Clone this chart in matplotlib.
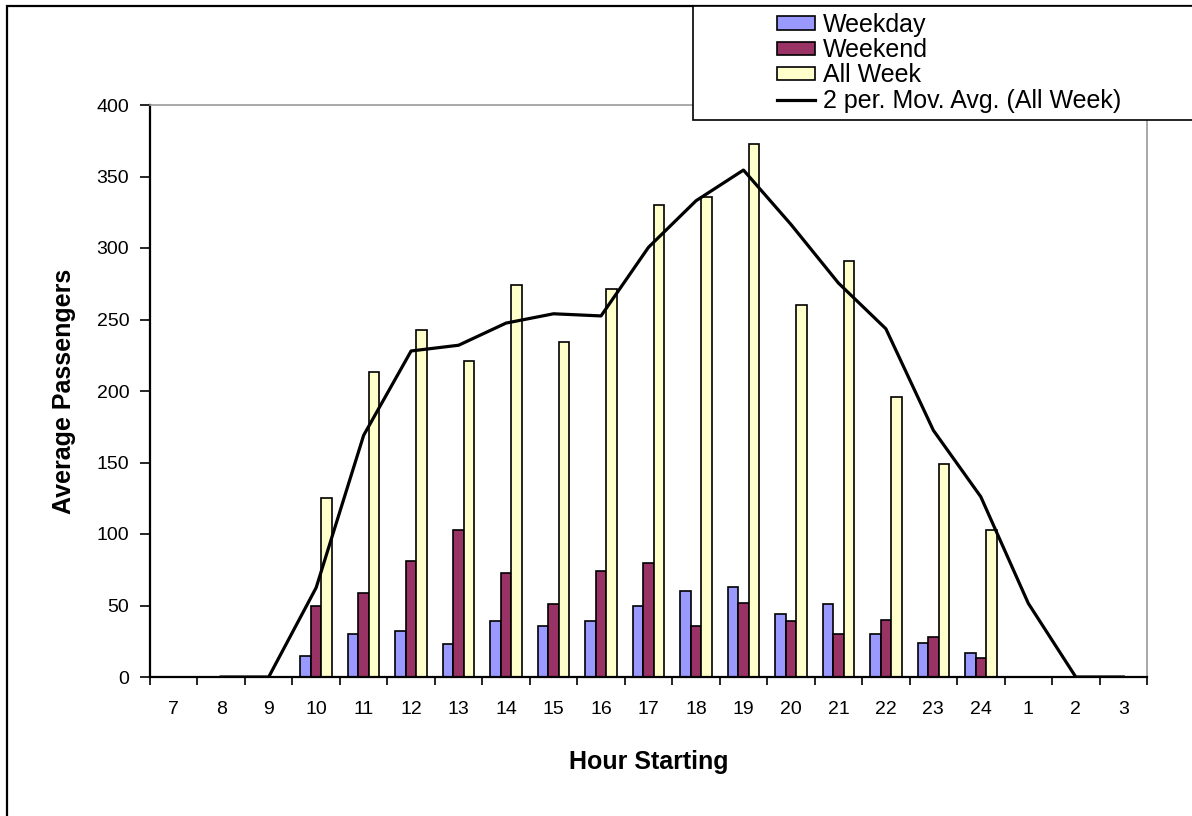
import matplotlib
matplotlib.use("Agg")
import matplotlib.pyplot as plt
import matplotlib.patches as mpatches
import numpy as np
import pandas as pd

plt.rcParams['font.family'] = ['Liberation Sans', 'DejaVu Sans']

# Average passengers by starting hour
hours = ["7", "8", "9", "10", "11", "12", "13", "14", "15", "16", "17",
         "18", "19", "20", "21", "22", "23", "24", "1", "2", "3"]
weekday = [0, 0, 0, 15, 30, 32, 23, 39, 36, 39, 50,
           60, 63, 44, 51, 30, 24, 17, 0, 0, 0]
weekend = [0, 0, 0, 50, 59, 81, 103, 73, 51, 74, 80,
           36, 52, 39, 30, 40, 28, 13, 0, 0, 0]
all_week = [0, 0, 0, 125, 213, 243, 221, 274, 234, 271, 330,
            336, 373, 260, 291, 196, 149, 103, 0, 0, 0]

df = pd.DataFrame({"Weekday": weekday, "Weekend": weekend, "All Week": all_week},
                  index=hours)
# 2-period moving average trendline on the all-week series
mov_avg = df["All Week"].rolling(2).mean()

W, H = 1192, 816
fig = plt.figure(figsize=(W / 100, H / 100), dpi=100)
ax = fig.add_axes([150 / W, (H - 677) / H, (1147 - 150) / W, (677 - 105) / H])

x = np.arange(len(hours))
bw = 0.22
colors = {"Weekday": "#9999FF", "Weekend": "#993366", "All Week": "#FFFFCC"}
for k, col in enumerate(["Weekday", "Weekend", "All Week"]):
    ax.bar(x + (k - 1) * bw, df[col], width=bw, color=colors[col],
           edgecolor="black", linewidth=1.2, label=col, zorder=2)

ax.plot(x, mov_avg, color="black", linewidth=2.3, zorder=3,
        label="2 per. Mov. Avg. (All Week)")

ax.set_xlim(-0.5, len(hours) - 0.5)
ax.set_ylim(0, 400)
ax.set_yticks(np.arange(0, 401, 50))
ax.tick_params(axis="y", direction="out", length=7, width=1.2, labelsize=14, pad=8)

# tick marks between categories, labels centred on them
ax.set_xticks(np.arange(-0.5, len(hours), 1))
ax.set_xticklabels([])
ax.set_xticks(x, minor=True)
ax.set_xticklabels(hours, minor=True)
ax.tick_params(axis="x", which="major", direction="out", length=6, width=1.2)
ax.tick_params(axis="x", which="minor", length=0, labelsize=14, pad=17)

for side in ["top", "right"]:
    ax.spines[side].set_color("#999999")
    ax.spines[side].set_linewidth(1.2)
for side in ["left", "bottom"]:
    ax.spines[side].set_color("black")
    ax.spines[side].set_linewidth(1.6)

ax.set_xlabel("Hour Starting", fontsize=18, fontweight="bold", labelpad=23)
ax.set_ylabel("Average Passengers", fontsize=18, fontweight="bold", labelpad=15)

# outer chart border
fig.patches.append(mpatches.Rectangle((7 / W, -0.1), 1.2, (H - 6) / H + 0.1,
                                      transform=fig.transFigure, fill=False,
                                      edgecolor="black", linewidth=1.6, zorder=1))
# legend box
fig.patches.append(mpatches.Rectangle((693 / W, (H - 120) / H), 0.5, 114 / H,
                                      transform=fig.transFigure, facecolor="white",
                                      edgecolor="black", linewidth=1.2, zorder=5))

handles, labels = ax.get_legend_handles_labels()
order = [1, 2, 3, 0]
leg = fig.legend([handles[i] for i in order], [labels[i] for i in order],
                 loc="upper left", bbox_to_anchor=(777 / W, (H - 13) / H),
                 frameon=False, fontsize=18, borderpad=0, borderaxespad=0,
                 labelspacing=0.05, handlelength=1.5, handleheight=0.45,
                 handletextpad=0.35)
leg.set_zorder(6)

fig.savefig("out.png", dpi=100)
